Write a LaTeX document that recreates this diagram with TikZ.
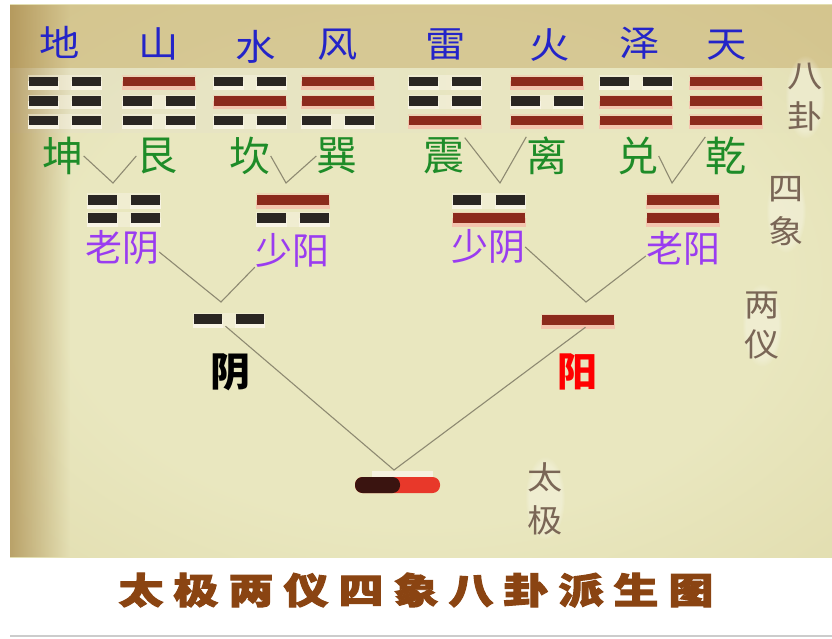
\documentclass[tikz,border=0pt]{standalone}
\usepackage{fontspec}
\usepackage{graphicx}
\usetikzlibrary{calc,fadings}
\newfontfamily\cjk{Noto Sans CJK SC}
\newfontfamily\cjkt[BoldFeatures={FakeBold=2.6}]{Noto Sans CJK SC}
\definecolor{panelin}{HTML}{E9E7BF}
\definecolor{panelmid}{HTML}{DCD5A2}
\definecolor{panelout}{HTML}{C0A462}
\definecolor{topc}{HTML}{C8B072}
\definecolor{edgec}{HTML}{A8884A}
\definecolor{bandc}{HTML}{E4E0CC}
\definecolor{yangc}{HTML}{8C2A1C}
\definecolor{yinc}{HTML}{2A2622}
\definecolor{yangglow}{HTML}{F4C4AE}
\definecolor{yinglow}{HTML}{F8F4E4}
\definecolor{bluec}{HTML}{2424C8}
\definecolor{greenc}{HTML}{1E8C28}
\definecolor{purplec}{HTML}{9A3CF0}
\definecolor{sidec}{HTML}{7A6656}
\definecolor{linec}{HTML}{8E8A72}
\definecolor{titlec}{HTML}{8A4412}
\definecolor{tjdark}{HTML}{3A1410}
\definecolor{tjred}{HTML}{E8382A}
\pgfdeclareradialshading{panelshade}{\pgfpoint{0bp}{0bp}}{color(0bp)=(panelin); color(22bp)=(panelin); color(50bp)=(panelmid); color(71bp)=(panelout)}
% one line (yao): x, y, width, height, type (1 yang, 0 yin)
\newcommand\yao[5]{%
  \ifnum#5=1
    \fill[yangglow, opacity=0.5] (#1-#3/2-1,#2-#4/2-1.5) rectangle (#1+#3/2+1,#2-#4/2);
    \fill[yangglow] (#1-#3/2-1,#2) rectangle (#1+#3/2+1,#2+#4/2+3.5);
    \fill[yangc] (#1-#3/2,#2-#4/2) rectangle (#1+#3/2,#2+#4/2);
  \else
    \fill[yinglow, opacity=0.5] (#1-#3/2-1,#2-#4/2-1.5) rectangle (#1+#3/2+1,#2+#4/2+3.5);
    \fill[yinglow] (#1-#3/2-1,#2) rectangle (#1-#3/2+0.4*#3+1,#2+#4/2+3.5);
    \fill[yinglow] (#1+#3/2-0.4*#3-1,#2) rectangle (#1+#3/2+1,#2+#4/2+3.5);
    \fill[yinc] (#1-#3/2,#2-#4/2) rectangle (#1-#3/2+0.4*#3,#2+#4/2);
    \fill[yinc] (#1+#3/2-0.4*#3,#2-#4/2) rectangle (#1+#3/2,#2+#4/2);
  \fi}
% trigram: name, x, y, top, middle, bottom
\newcommand\gua[6]{%
  \node[guabox] (#1) at (#2,#3) {};
  \yao{#2}{#3-19.5}{72}{9.5}{#4}
  \yao{#2}{#3}{72}{9.5}{#5}
  \yao{#2}{#3+19.5}{72}{9.5}{#6}}
% bigram: name, x, y, top, bottom
\newcommand\xiang[5]{%
  \node[xiangbox] (#1) at (#2,#3) {};
  \yao{#2}{#3-9}{72}{10}{#4}
  \yao{#2}{#3+9}{72}{10}{#5}}
\tikzset{
  guabox/.style={inner sep=0pt, minimum width=72pt, minimum height=50pt},
  xiangbox/.style={inner sep=0pt, minimum width=72pt, minimum height=30pt},
  yibox/.style={inner sep=0pt, minimum width=72pt, minimum height=14pt},
  lbl/.style={inner sep=0pt},
  toplbl/.style={lbl, text=bluec, font=\cjk\fontsize{36}{36}\selectfont},
  gualbl/.style={lbl, text=greenc, font=\cjk\fontsize{41}{41}\selectfont},
  xianglbl/.style={lbl, text=purplec, font=\cjk\fontsize{37}{37}\selectfont},
  yilbl/.style={lbl, font=\cjk\bfseries\fontsize{40}{40}\selectfont},
  sidelbl/.style={lbl, text=sidec, align=center, font=\cjk\fontsize{32}{#1}\selectfont},
  sideglow/.style={white, opacity=0.28, path fading=circle with fuzzy edge 20 percent},
  link/.style={draw=linec, line width=1.1pt},
  tjbar/.style={inner sep=0pt, minimum width=85pt, minimum height=16pt, rounded corners=7.5pt,
    fill=tjred, path picture={\fill[tjdark] (path picture bounding box.south west) rectangle ([xshift=2.5pt]path picture bounding box.north);}},
  titlelbl/.style={lbl, text=titlec, font=\cjkt\bfseries\fontsize{36}{36}\selectfont}
}
\begin{document}
\begin{tikzpicture}[x=1pt,y=-1pt]
\useasboundingbox (0,0) rectangle (832,639);
\fill[white] (0,0) rectangle (832,639);
% panel background
\shade[shading=panelshade] (10,5) rectangle (832,557);
\fill[topc, opacity=0.55] (10,5) rectangle (832,68);
\fill[bandc, opacity=0.45, path fading=east] (10,68) rectangle (800,133);
\fill[edgec, opacity=0.7, path fading=east] (10,5) rectangle (70,557);
\draw[line width=1.5pt, gray!40] (10,636) -- (832,636);

% top names
\node[toplbl] (diT)   at (60,42)  {\scalebox{1.12}[1]{地}};
\node[toplbl] (shanT) at (159,44) {\scalebox{1.12}[1]{山}};
\node[toplbl] (shuiT) at (256,47) {\scalebox{1.12}[1]{水}};
\node[toplbl] (fengT) at (338,45) {\scalebox{1.12}[1]{风}};
\node[toplbl] (leiT)  at (446,45) {\scalebox{1.12}[1]{雷}};
\node[toplbl] (huoT)  at (550,45) {\scalebox{1.12}[1]{火}};
\node[toplbl] (zeT)   at (640,43) {\scalebox{1.12}[1]{泽}};
\node[toplbl] (tianT) at (727,45) {\scalebox{1.12}[1]{天}};

% trigrams (top, middle, bottom)
\gua{kun}{65}{101}{0}{0}{0}
\gua{gen}{159}{101}{1}{0}{0}
\gua{kan}{250}{101}{0}{1}{0}
\gua{xun}{338}{101}{1}{1}{0}
\gua{zhen}{445}{101}{0}{0}{1}
\gua{li}{547}{101}{1}{0}{1}
\gua{dui}{636}{101}{0}{1}{1}
\gua{qian}{726}{101}{1}{1}{1}

% trigram names
\node[gualbl] (kunL)  at (63,156)  {坤};
\node[gualbl] (genL)  at (157,156) {艮};
\node[gualbl] (kanL)  at (250,156) {坎};
\node[gualbl] (xunL)  at (337,156) {巽};
\node[gualbl] (zhenL) at (444,156) {震};
\node[gualbl] (liL)   at (547,156) {离};
\node[gualbl] (duiL)  at (638,156) {兑};
\node[gualbl] (qianL) at (726,156) {乾};

% bigrams (four images)
\xiang{laoyin}{124}{209}{0}{0}
\xiang{shaoyang}{293}{209}{1}{0}
\xiang{shaoyin}{488.5}{209}{0}{1}
\xiang{laoyang}{682.5}{209}{1}{1}
\node[xianglbl] (laoyinL)   at (122,248) {老阴};
\node[xianglbl] (shaoyangL) at (292,250) {少阳};
\node[xianglbl] (shaoyinL)  at (488,247) {少阴};
\node[xianglbl] (laoyangL)  at (683,248) {老阳};

% two modes
\node[yibox] (yinB) at (228.5,319) {};
\yao{228.5}{319}{70}{10}{0}
\node[yibox] (yangB) at (577.5,320) {};
\yao{577.5}{320}{72}{10}{1}
\node[yilbl, text=black] (yinL) at (230,372) {阴};
\node[yilbl, text=red]   (yangL) at (577,372) {阳};

% supreme ultimate
\fill[yinglow, opacity=0.9] (372,471) rectangle (433,478);
\node[tjbar] (tj) at (397.5,485) {};

% vertices
\coordinate (v1) at (113,183);
\coordinate (v2) at (286,183);
\coordinate (v3) at (500,183);
\coordinate (v4) at (672,183);
\coordinate (v5) at (221,302);
\coordinate (v6) at (586,302);
\coordinate (v7) at (394,470);

% connectors
\draw[link] (kunL.east) -- (v1) -- (genL.west);
\draw[link] (kanL.east) -- (v2) -- (xunL.west);
\draw[link] (zhenL.north east) -- (v3) -- (liL.north west);
\draw[link] (duiL.east) -- (v4) -- (qianL.north west);
\draw[link] ([yshift=-4pt]laoyinL.east) -- (v5) -- (shaoyangL.south west);
\draw[link] (shaoyinL.east) -- (v6) -- ([yshift=-8pt]laoyangL.west);
\draw[link] ([xshift=-3pt]yinB.south) -- (v7) -- ([xshift=8pt]yangB.south);

% side level names
\fill[sideglow] (805,97) ellipse (20 and 42);
\fill[sideglow] (786,211) ellipse (20 and 42);
\fill[sideglow] (762,325) ellipse (20 and 42);
\fill[sideglow] (545,498) ellipse (20 and 42);
\node[sidelbl=41] (bagua)   at (805,97.5)  {\scalebox{1.1}[1]{八}\\\scalebox{1.1}[1]{卦}};
\node[sidelbl=43] (sixiang) at (786,211.5) {\scalebox{1.1}[1]{四}\\\scalebox{1.1}[1]{象}};
\node[sidelbl=40] (liangyi) at (762,325)   {\scalebox{1.1}[1]{两}\\\scalebox{1.1}[1]{仪}};
\node[sidelbl=43] (taiji)   at (545,498.5) {\scalebox{1.1}[1]{太}\\\scalebox{1.1}[1]{极}};

% title
\node[titlelbl] (title) at (416,590) {\scalebox{1.25}[1]{太\kern8pt 极\kern8pt 两\kern8pt 仪\kern8pt 四\kern8pt 象\kern8pt 八\kern8pt 卦\kern8pt 派\kern8pt 生\kern8pt 图}};
\end{tikzpicture}
\end{document}
